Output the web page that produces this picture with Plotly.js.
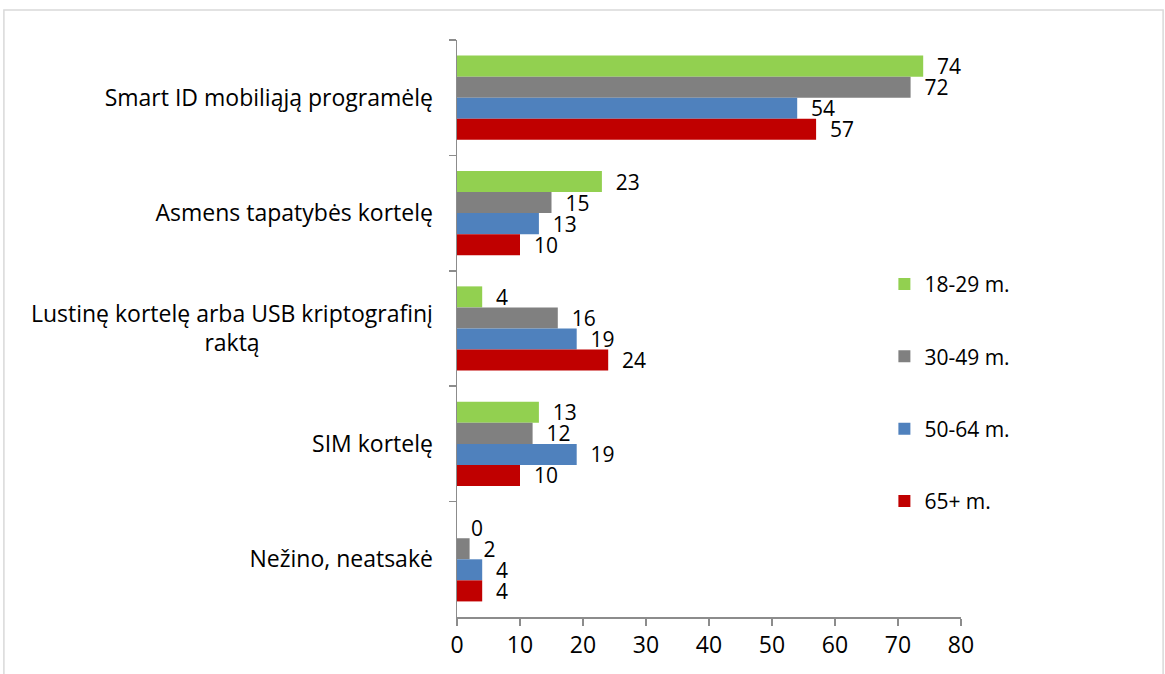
<!DOCTYPE html>
<html>
<head>
<meta charset="utf-8">
<script src="https://cdn.plot.ly/plotly-3.0.1.min.js"></script>
<style>html,body{margin:0;padding:0;background:#fff;}#chart{width:1165px;height:674px;}</style>
</head>
<body>
<div id="chart"></div>
<script>
const NB = '\u00a0';
const categories = [
  'Smart ID mobiliąją programėlę',
  'Asmens tapatybės kortelę',
  'Lustinę kortelę arba USB kriptografinį<br>raktą' + NB.repeat(29),
  'SIM kortelę',
  'Nežino, neatsakė'
];
const seriesNames = ['18-29 m.', '30-49 m.', '50-64 m.', '65+ m.'];
const colors = ['#92d050', '#808080', '#4f81bd', '#c00000'];
const v18_29 = [74, 23, 4, 13, 0];
const v30_49 = [72, 15, 16, 12, 2];
const v50_64 = [54, 13, 19, 19, 4];
const v65 = [57, 10, 24, 10, 4];
const xTicks = [0, 10, 20, 30, 40, 50, 60, 70, 80];

const FONT = 'Open Sans, sans-serif';
const FS = 21;
const TFS = 23;
const allVals = [v18_29, v30_49, v50_64, v65];
const traces = allVals.map((vals, i) => ({
  type: 'bar',
  orientation: 'h',
  name: seriesNames[i],
  legendgroup: 'g' + i,
  x: vals,
  y: categories,
  marker: {color: colors[i], line: {width: 0}},
  text: vals.map(v => NB + NB + v),
  textposition: 'outside',
  constraintext: 'none',
  cliponaxis: false,
  textfont: {family: FONT, size: FS, color: '#000'},
  hoverinfo: 'x+name'
}));

const layout = {
  width: 1165, height: 674,
  margin: {l: 457, r: 204, t: 40, b: 57},
  paper_bgcolor: '#fff', plot_bgcolor: '#fff',
  barmode: 'group', bargap: 0.27, bargroupgap: 0,
  font: {family: FONT, size: FS, color: '#000'},
  xaxis: {
    range: [0, 80], tickvals: xTicks, ticktext: xTicks.map(String),
    showgrid: false, zeroline: false, showline: true, linecolor: '#8c8c8c', linewidth: 1.5,
    ticks: 'outside', ticklen: 7, tickcolor: '#8c8c8c', tickwidth: 1.5,
    tickfont: {family: FONT, size: TFS, color: '#000'}, fixedrange: true
  },
  yaxis: {
    autorange: 'reversed', type: 'category',
    showgrid: false, zeroline: false, showline: true, linecolor: '#8c8c8c', linewidth: 1.5,
    ticks: 'outside', tickson: 'boundaries', ticklen: 7, tickcolor: '#8c8c8c', tickwidth: 1.5,
    tickfont: {family: FONT, size: TFS, color: '#000'}, ticklabelstandoff: 18, fixedrange: true
  },
  showlegend: true,
  legend: {
    x: 0.848, xanchor: 'left', y: 0.612, yanchor: 'top',
    traceorder: 'grouped', tracegroupgap: 42,
    font: {family: FONT, size: FS, color: '#000'}, bgcolor: 'rgba(0,0,0,0)'
  },
  shapes: [{
    type: 'rect', xref: 'paper', yref: 'paper',
    x0: -0.899, x1: 1.401, y0: -0.12, y1: 1.052,
    line: {color: '#d9d9d9', width: 1.5}, fillcolor: 'rgba(0,0,0,0)', layer: 'below'
  }]
};

Plotly.newPlot('chart', traces, layout, {displayModeBar: false, staticPlot: true});
</script>
</body>
</html>
